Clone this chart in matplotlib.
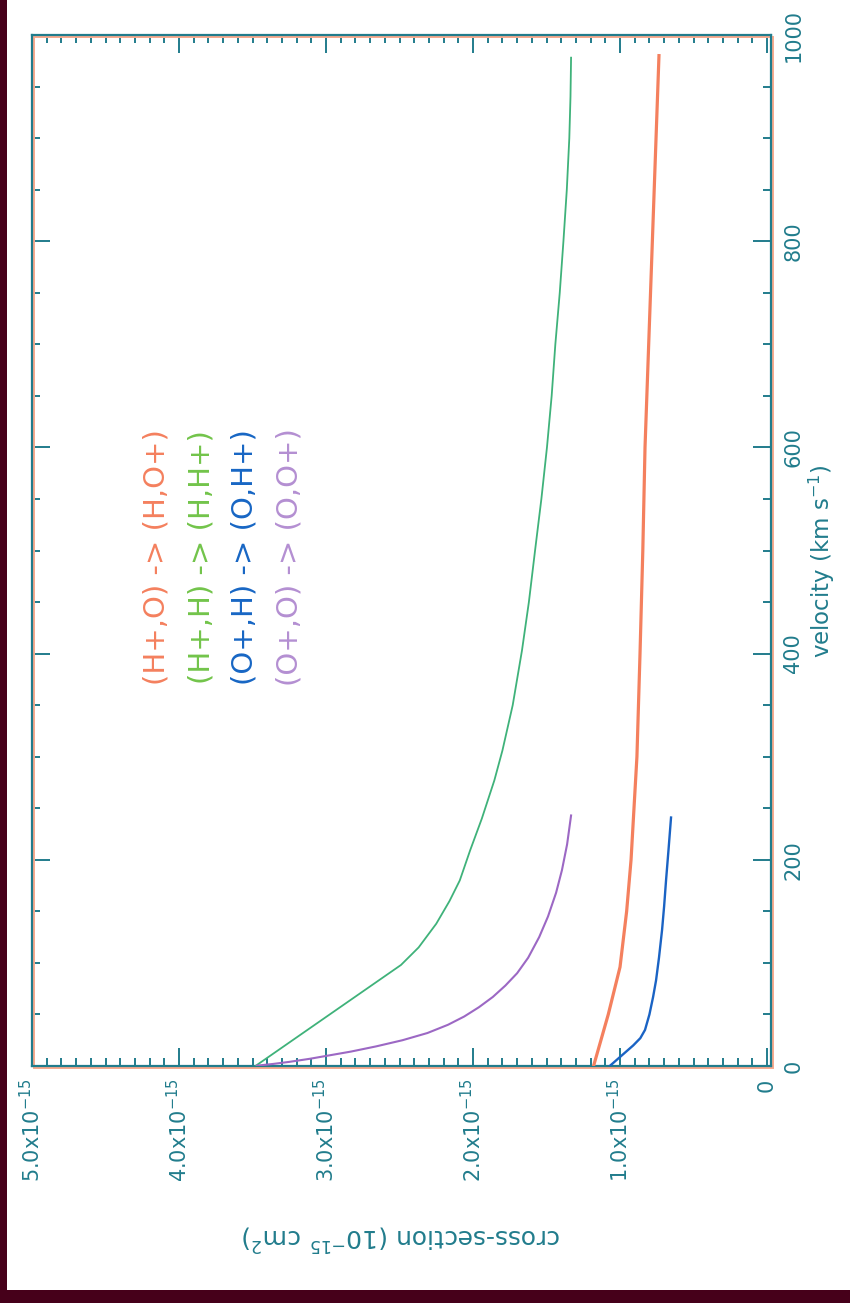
import matplotlib
matplotlib.use("Agg")
import matplotlib.pyplot as plt
import matplotlib.transforms as mtransforms
from matplotlib.patches import Rectangle
from matplotlib.ticker import FixedLocator, FixedFormatter, MultipleLocator

# ---------------- data (cross-section in units of 1e-15 cm^2) ----------------
vel_h_o = [0, 50, 96, 150, 200, 300, 400, 500, 600, 700, 800, 900, 980]
cs_h_o = [1.18, 1.08, 1.0, 0.955, 0.925, 0.885, 0.864, 0.845, 0.83, 0.805, 0.78, 0.755, 0.735]

vel_h_h = [0, 98, 115, 138, 160, 180, 209, 240, 277, 306, 350, 403, 450, 500,
           550, 600, 650, 700, 750, 800, 850, 900, 940, 978]
cs_h_h = [3.48, 2.49, 2.37, 2.25, 2.16, 2.09, 2.02, 1.94, 1.855, 1.80, 1.73, 1.667,
          1.62, 1.578, 1.535, 1.497, 1.465, 1.44, 1.41, 1.385, 1.362, 1.345, 1.337, 1.333]

vel_o_h = [0, 10, 20, 27, 35, 50, 67, 83, 105, 132, 155, 180, 210, 241]
cs_o_h = [1.07, 0.99, 0.91, 0.862, 0.83, 0.80, 0.775, 0.755, 0.735, 0.714, 0.70,
          0.687, 0.67, 0.653]

vel_o_o = [0.3, 2, 4, 7, 10, 14, 19, 25, 32, 40, 48, 57, 67, 78, 90, 105, 125,
           145, 168, 190, 215, 243]
cs_o_o = [3.47, 3.36, 3.25, 3.11, 2.99, 2.83, 2.66, 2.48, 2.31, 2.17, 2.06, 1.96,
          1.865, 1.78, 1.70, 1.625, 1.55, 1.49, 1.435, 1.395, 1.36, 1.333]

series_labels = ["(H+,O) -> (H,O+)", "(H+,H) -> (H,H+)", "(O+,H) -> (O,H+)", "(O+,O) -> (O,O+)"]

cs_ticks = [0, 1, 2, 3, 4, 5]
cs_tick_labels = ["0", "1.0x10$^{-15}$", "2.0x10$^{-15}$", "3.0x10$^{-15}$",
                  "4.0x10$^{-15}$", "5.0x10$^{-15}$"]
vel_ticks = [0, 200, 400, 600, 800, 1000]
vel_tick_labels = ["0", "200", "400", "600", "800", "1000"]

# ---------------- style ----------------
plt.rcParams["font.family"] = ["DejaVu Sans"]
plt.rcParams["mathtext.fontset"] = "dejavusans"

TEAL = "#217c8c"
C_ORANGE = "#f4805e"
C_GREEN = "#3fb27a"
C_BLUE = "#1a63c4"
C_PURPLE = "#9c68c4"
T_ORANGE = "#f4805e"
T_GREEN = "#72c44a"
T_BLUE = "#1766c4"
T_PURPLE = "#b48fd2"

W, H = 850, 1303
fig = plt.figure(figsize=(W / 100, H / 100), dpi=100, facecolor="#46001a")
fig.patches.append(Rectangle((7 / W, 13 / H), 1, 1, transform=fig.transFigure,
                             facecolor="white", edgecolor="none", zorder=-5))

ax = fig.add_axes([32 / W, 1 - 1066 / H, 739 / W, 1031 / H])
ax.set_facecolor("white")

# rotated chart: horizontal = cross-section (reversed), vertical = velocity
ax.plot(cs_h_o, vel_h_o, color=C_ORANGE, lw=2.3, zorder=3)
ax.plot(cs_h_h, vel_h_h, color=C_GREEN, lw=1.3, zorder=3)
ax.plot(cs_o_h, vel_o_h, color=C_BLUE, lw=1.7, zorder=3)
ax.plot(cs_o_o, vel_o_o, color=C_PURPLE, lw=1.5, zorder=3)

ax.set_xlim(5.0, -0.027)
ax.set_ylim(0, 1000)

ax.xaxis.set_major_locator(FixedLocator(cs_ticks))
ax.xaxis.set_major_formatter(FixedFormatter(cs_tick_labels))
ax.xaxis.set_minor_locator(MultipleLocator(0.1))
ax.yaxis.set_major_locator(FixedLocator(vel_ticks))
ax.yaxis.set_major_formatter(FixedFormatter(vel_tick_labels))
ax.yaxis.set_minor_locator(MultipleLocator(50))

ax.tick_params(axis="both", which="both", direction="in", top=True, bottom=True,
               left=True, right=True, color=TEAL, width=1.4, labelcolor=TEAL)
ax.tick_params(which="major", length=13)
ax.tick_params(which="minor", length=6)
ax.tick_params(axis="x", labelbottom=True, labeltop=False, labelrotation=90,
               pad=9, labelsize=15)
ax.tick_params(axis="y", labelleft=False, labelright=True, labelrotation=90,
               pad=9, labelsize=15)
for lbl in ax.get_yticklabels():
    lbl.set_va("center")

for sp in ax.spines.values():
    sp.set_color(TEAL)
    sp.set_linewidth(1.6)

shadow = Rectangle((0, 0), 1, 1, fill=False, edgecolor="#f7a98c", lw=1.4,
                   transform=ax.transAxes + mtransforms.ScaledTranslation(
                       0.02, -0.02, fig.dpi_scale_trans),
                   clip_on=False, zorder=2.2)
ax.add_patch(shadow)

ax.set_xlabel("cross-section (10$^{-15}$ cm$^{2}$)", rotation=180, fontsize=18,
              color=TEAL)
ax.xaxis.set_label_coords(0.5, -0.166)
ax.xaxis.label.set_va("center")
ax.xaxis.label.set_ha("center")

ax.yaxis.set_label_position("right")
ax.set_ylabel("velocity (km s$^{-1}$)", rotation=90, fontsize=16.5, color=TEAL)
ax.yaxis.set_label_coords(1.069, 0.49)
ax.yaxis.label.set_va("center")
ax.yaxis.label.set_ha("center")

text_colors = [T_ORANGE, T_GREEN, T_BLUE, T_PURPLE]
text_x = [0.169, 0.229, 0.288, 0.349]
for lab, col, tx in zip(series_labels, text_colors, text_x):
    ax.text(tx, 0.494, lab, rotation=90, transform=ax.transAxes, ha="center",
            va="center", color=col, fontsize=21)

fig.savefig("out.png", dpi=100, facecolor=fig.get_facecolor())
